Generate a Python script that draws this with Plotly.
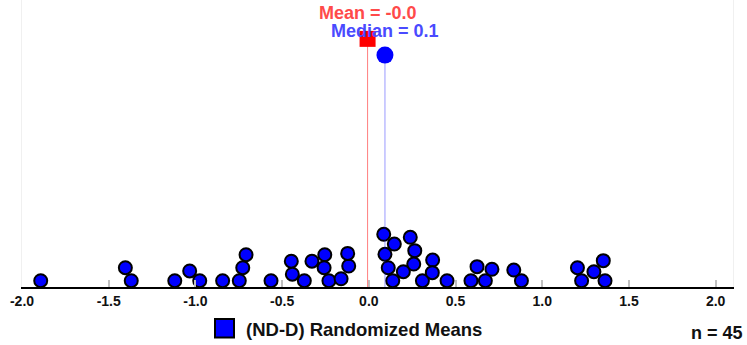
import numpy as np
import plotly.graph_objects as go

# Randomized means (x values) and their stack level in the dot plot
values = [-1.892, -1.404, -1.370, -1.119, -1.033, -0.975, -0.843, -0.747, -0.727, -0.708,
          -0.564, -0.447, -0.441, -0.372, -0.328, -0.254, -0.258, -0.230, -0.160, -0.116,
          -0.122, 0.086, 0.147, 0.093, 0.112, 0.138, 0.199, 0.239, 0.265, 0.259,
          0.309, 0.368, 0.366, 0.451, 0.589, 0.624, 0.672, 0.710, 0.836, 0.880,
          1.203, 1.227, 1.298, 1.352, 1.362]
levels = [0, 1.0, 0, 0, 0.75, 0, 0, 0, 1.0, 2.0,
          0, 1.5, 0.5, 0, 1.5, 2.0, 1.0, 0, 0.15, 1.13,
          2.1, 3.57, 2.82, 2.03, 1.0, 0, 0.69, 3.34, 2.31, 1.28,
          0, 1.59, 0.62, 0, 0, 1.08, 0, 0.88, 0.82, 0,
          1.0, 0, 0.69, 1.54, 0]
tick_vals = [-2.0, -1.5, -1.0, -0.5, 0.0, 0.5, 1.0, 1.5, 2.0]
tick_text = ["-2.0", "-1.5", "-1.0", "-0.5", "0.0", "0.5", "1.0", "1.5", "2.0"]
series_name = "(ND-D) Randomized Means"

mean_v = float(np.mean(values))
median_v = float(np.median(values))
n = len(values)

MEAN_LEVEL = 18.6
MEDIAN_LEVEL = 17.35
Y_RANGE = [-0.485, 21.59]
FONT = "Arial, Liberation Sans, sans-serif"

fig = go.Figure()

# stems
fig.add_shape(type="line", xref="x", yref="y", x0=mean_v, x1=mean_v, y0=Y_RANGE[0], y1=MEAN_LEVEL,
              line=dict(color="rgba(255,0,0,0.5)", width=1))
fig.add_shape(type="line", xref="x", yref="y", x0=median_v, x1=median_v, y0=Y_RANGE[0], y1=MEDIAN_LEVEL,
              line=dict(color="rgba(0,0,255,0.4)", width=1))

fig.add_trace(go.Scatter(x=[mean_v], y=[MEAN_LEVEL], mode="markers",
                         marker=dict(symbol="square", size=16, color="#ff0000"),
                         showlegend=False, cliponaxis=False))
fig.add_trace(go.Scatter(x=[median_v], y=[MEDIAN_LEVEL], mode="markers",
                         marker=dict(symbol="circle", size=17, color="#0000ff"),
                         showlegend=False, cliponaxis=False))

fig.add_trace(go.Scatter(x=values, y=levels, mode="markers",
                         marker=dict(symbol="circle", size=13, color="#0000ff",
                                     line=dict(color="black", width=2)),
                         showlegend=False, cliponaxis=False))

fig.add_annotation(x=mean_v, y=1.0 - 13.5 / 287, xref="x", yref="paper",
                   text=f"<b>Mean = {mean_v:.1f}</b>", showarrow=False,
                   font=dict(family=FONT, size=18, color="#ff4a4a"),
                   xanchor="center", yanchor="middle")
fig.add_annotation(x=median_v, y=1.0 - 31.5 / 287, xref="x", yref="paper",
                   text=f"<b>Median = {median_v:.1f}</b>", showarrow=False,
                   font=dict(family=FONT, size=18, color="#4a4aff"),
                   xanchor="center", yanchor="middle")

# custom legend
fig.add_shape(type="rect", xref="paper", yref="paper",
              x0=(215 - 22) / 711, x1=(234 - 22) / 711,
              y0=(287 - 337.5) / 287, y1=(287 - 319) / 287,
              fillcolor="#0000ff", line=dict(color="black", width=2))
fig.add_annotation(x=(244 - 22) / 711, y=(287 - 329) / 287, xref="paper", yref="paper",
                   text=f"<b>{series_name}</b>", showarrow=False,
                   font=dict(family=FONT, size=18.5, color="#111111"),
                   xanchor="left", yanchor="middle")
fig.add_annotation(x=(745 - 22) / 711, y=(287 - 333) / 287, xref="paper", yref="paper",
                   text=f"<b>n = {n}</b>", showarrow=False,
                   font=dict(family=FONT, size=18, color="#111111"),
                   xanchor="right", yanchor="middle")

fig.update_layout(
    width=747, height=345,
    margin=dict(l=22, r=14, t=0, b=58),
    paper_bgcolor="white", plot_bgcolor="white",
    font=dict(family=FONT),
    xaxis=dict(range=[-2.0, 2.1], tickvals=tick_vals,
               ticktext=[f"<b>{t}</b>" for t in tick_text],
               showgrid=False, zeroline=False, showline=True, linecolor="black", linewidth=2,
               ticks="inside", ticklen=7, tickwidth=2, tickcolor="#c0c0c0",
               tickfont=dict(family=FONT, size=14, color="#111111")),
    yaxis=dict(range=Y_RANGE, showgrid=False, zeroline=False, showticklabels=False,
               showline=True, linecolor="#f0f0f0", linewidth=1, mirror=True, ticks=""),
)

fig.write_html("out.html", config={"displayModeBar": False},
               post_script="document.body.style.margin='0';document.body.style.overflow='hidden';")
